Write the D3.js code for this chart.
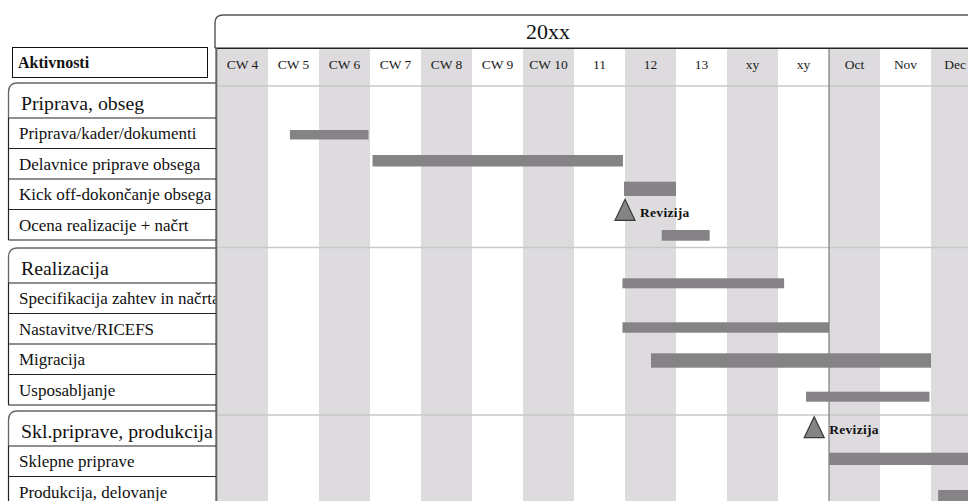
<!DOCTYPE html>
<html><head><meta charset="utf-8">
<script src="https://cdn.jsdelivr.net/npm/d3@7"></script>
<style>
html,body{margin:0;padding:0;background:#fff;overflow:hidden}
</style>
</head><body>
<svg id="chart" width="968" height="501" font-family="Liberation Serif, DejaVu Serif, serif"></svg>
<script>
// ---------------- data ----------------
const yearLabel = "20xx";
const headerLabel = "Aktivnosti";
const columnLabels = ["CW 4","CW 5","CW 6","CW 7","CW 8","CW 9","CW 10","11","12","13","xy","xy","Oct","Nov","Dec"];
const groupNames = ["Priprava, obseg","Realizacija","Skl.priprave, produkcija"];
const taskNames = [
  "Priprava/kader/dokumenti",
  "Delavnice priprave obsega",
  "Kick off-dokončanje obsega",
  "Ocena realizacije + načrt",
  "Specifikacija zahtev in načrta",
  "Nastavitve/RICEFS",
  "Migracija",
  "Usposabljanje",
  "Sklepne priprave",
  "Produkcija, delovanje"
];
const taskGroup = [0,0,0,0,1,1,1,1,2,2];
// start / end in column units (0 = start of CW 4)
const taskStart = [1.43, 3.05, 7.98, 8.72, 7.95, 7.95, 8.51, 11.55, 12.0, 14.14];
const taskEnd   = [2.97, 7.96, 9.00, 9.66, 11.12, 12.0, 14.0, 13.97, 16.0, 16.0];
const milestoneLabels = ["Revizija","Revizija"];
const milestoneAt = [8.0, 11.71];
const milestoneTask = [3, 8];

// ---------------- layout ----------------
const FONT = "Liberation Serif, DejaVu Serif, serif";
const W = 968, H = 501;
const gridLeft = 217, colW = 51;
const groupTop = [83, 248, 411], headH = 35, rowH = 30.5;
const barOffset = [12, 6.5, 2.7, 20.5, -4.7, 8.8, 9.3, 17.2, 6.7, 13.5];
const barThick  = [9.5, 11.5, 14.3, 10.7, 10, 10.4, 14.4, 10, 12.3, 12];
const msOffset = [-10.2, -29.3];
const gridLines = [86, 247.5, 415];
const shade = "#dddbde", barFill = "#858385";

const svg = d3.select("#chart");
svg.append("rect").attr("width", W).attr("height", H).attr("fill", "#fff");

const x = d3.scaleLinear().domain([0, columnLabels.length])
  .range([gridLeft, gridLeft + colW * columnLabels.length]);
const xb = d3.scaleBand().domain(d3.range(columnLabels.length))
  .range([gridLeft, gridLeft + colW * columnLabels.length]).padding(0);

const idxInGroup = taskGroup.map((g, i) => taskGroup.slice(0, i).filter(v => v === g).length);
const rowTop = taskGroup.map((g, i) => groupTop[g] + headH + idxInGroup[i] * rowH);

// column shading
svg.append("g").selectAll("rect")
  .data(d3.range(columnLabels.length).filter(i => i % 2 === 0))
  .join("rect")
  .attr("x", i => xb(i)).attr("width", xb.bandwidth())
  .attr("y", 48.5).attr("height", H - 48.5)
  .attr("fill", shade);

// light grid lines
svg.append("g").selectAll("line").data(gridLines).join("line")
  .attr("x1", gridLeft).attr("x2", W).attr("y1", d => d).attr("y2", d => d)
  .attr("stroke", "#c9c9c9").attr("stroke-width", 1.5);

// month separator line (start of Oct)
svg.append("line").attr("x1", x(12)).attr("x2", x(12)).attr("y1", 48).attr("y2", H)
  .attr("stroke", "#7a7a7a").attr("stroke-width", 1.2);

// header box (rounded)
svg.append("path")
  .attr("d", `M215,48 V23 Q215,15 223,15 H${W + 5}`)
  .attr("fill", "none").attr("stroke", "#555").attr("stroke-width", 1.4);
svg.append("line").attr("x1", 215).attr("x2", W).attr("y1", 48.3).attr("y2", 48.3)
  .attr("stroke", "#222").attr("stroke-width", 1.5);
svg.append("text").attr("x", 548).attr("y", 39).attr("text-anchor", "middle")
  .attr("font-family", FONT)
  .attr("font-size", 22).attr("fill", "#111").text(yearLabel);

// column labels via axis
const axisG = svg.append("g").attr("transform", "translate(0,72)")
  .call(d3.axisTop(xb).tickSize(0).tickPadding(3).tickFormat(i => columnLabels[i]));
axisG.attr("font-family", FONT).attr("font-size", 13.5);
axisG.select(".domain").remove();
axisG.selectAll("text").attr("fill", "#1a1a1a");
axisG.selectAll(".tick").each(function(i) {
  const t = d3.select(this).select("text");
  const w = t.node().getComputedTextLength();
  const cx = xb(i) + xb.bandwidth() / 2;
  if (cx + w / 2 > W - 2) t.attr("x", (W - 2 - w / 2) - cx);
});

// grid left border
svg.append("line").attr("x1", 216.3).attr("x2", 216.3).attr("y1", 48).attr("y2", H)
  .attr("stroke", "#666").attr("stroke-width", 2);

// Aktivnosti box
svg.append("rect").attr("x", 12.5).attr("y", 47.5).attr("width", 195).attr("height", 30)
  .attr("fill", "none").attr("stroke", "#111").attr("stroke-width", 1);
svg.append("text").attr("x", 18).attr("y", 67.5).attr("font-size", 16)
  .attr("font-family", FONT)
  .attr("font-weight", "bold").attr("fill", "#111").text(headerLabel);

// left label panel
const clip = svg.append("clipPath").attr("id", "lblclip");
clip.append("rect").attr("x", 0).attr("y", 0).attr("width", 215.5).attr("height", H);
const left = svg.append("g");

groupNames.forEach((name, g) => {
  const t = groupTop[g];
  const nRows = taskGroup.filter(v => v === g).length;
  const bottom = t + headH + nRows * rowH;
  left.append("path")
    .attr("d", `M8.5,${t + headH} V${t + 9} Q8.5,${t} 17.5,${t} H216`)
    .attr("fill", "none").attr("stroke", "#666").attr("stroke-width", 1.3);
  left.append("line").attr("x1", 8.5).attr("x2", 216).attr("y1", t + headH).attr("y2", t + headH)
    .attr("stroke", "#222").attr("stroke-width", 1.2);
  left.append("line").attr("x1", 8.5).attr("x2", 8.5).attr("y1", t + headH).attr("y2", bottom)
    .attr("stroke", "#222").attr("stroke-width", 1.2);
  left.append("text").attr("x", 21).attr("y", t + 27).attr("font-size", 19.8)
    .attr("font-family", FONT)
    .attr("fill", "#111").attr("clip-path", "url(#lblclip)").text(name);
});

left.selectAll("line.rowline").data(taskNames).join("line").attr("class", "rowline")
  .attr("x1", 8.5).attr("x2", 216)
  .attr("y1", (d, i) => rowTop[i] + rowH).attr("y2", (d, i) => rowTop[i] + rowH)
  .attr("stroke", "#222").attr("stroke-width", 1.2);

left.selectAll("text.task").data(taskNames).join("text").attr("class", "task")
  .attr("x", 19).attr("y", (d, i) => rowTop[i] + 21)
  .attr("font-family", FONT)
  .attr("font-size", 17).attr("fill", "#111")
  .attr("clip-path", "url(#lblclip)").text(d => d);

// bars
svg.append("g").selectAll("rect").data(taskNames).join("rect")
  .attr("x", (d, i) => x(taskStart[i]))
  .attr("width", (d, i) => x(taskEnd[i]) - x(taskStart[i]))
  .attr("y", (d, i) => rowTop[i] + barOffset[i])
  .attr("height", (d, i) => barThick[i])
  .attr("fill", barFill);

// milestones
const ms = svg.append("g").selectAll("g").data(milestoneLabels).join("g")
  .attr("transform", (d, i) => `translate(${x(milestoneAt[i])},${rowTop[milestoneTask[i]] + msOffset[i]})`);
ms.append("path").attr("d", "M0,0 L10,21 L-10,21 Z")
  .attr("fill", barFill).attr("stroke", "#3a3a3a").attr("stroke-width", 1.2);
ms.append("text").attr("x", 15).attr("y", 17.5).attr("font-size", 13.5)
  .attr("font-family", FONT)
  .attr("font-weight", "bold").attr("fill", "#111").attr("letter-spacing", 0.3).text(d => d);
</script>
</body></html>
